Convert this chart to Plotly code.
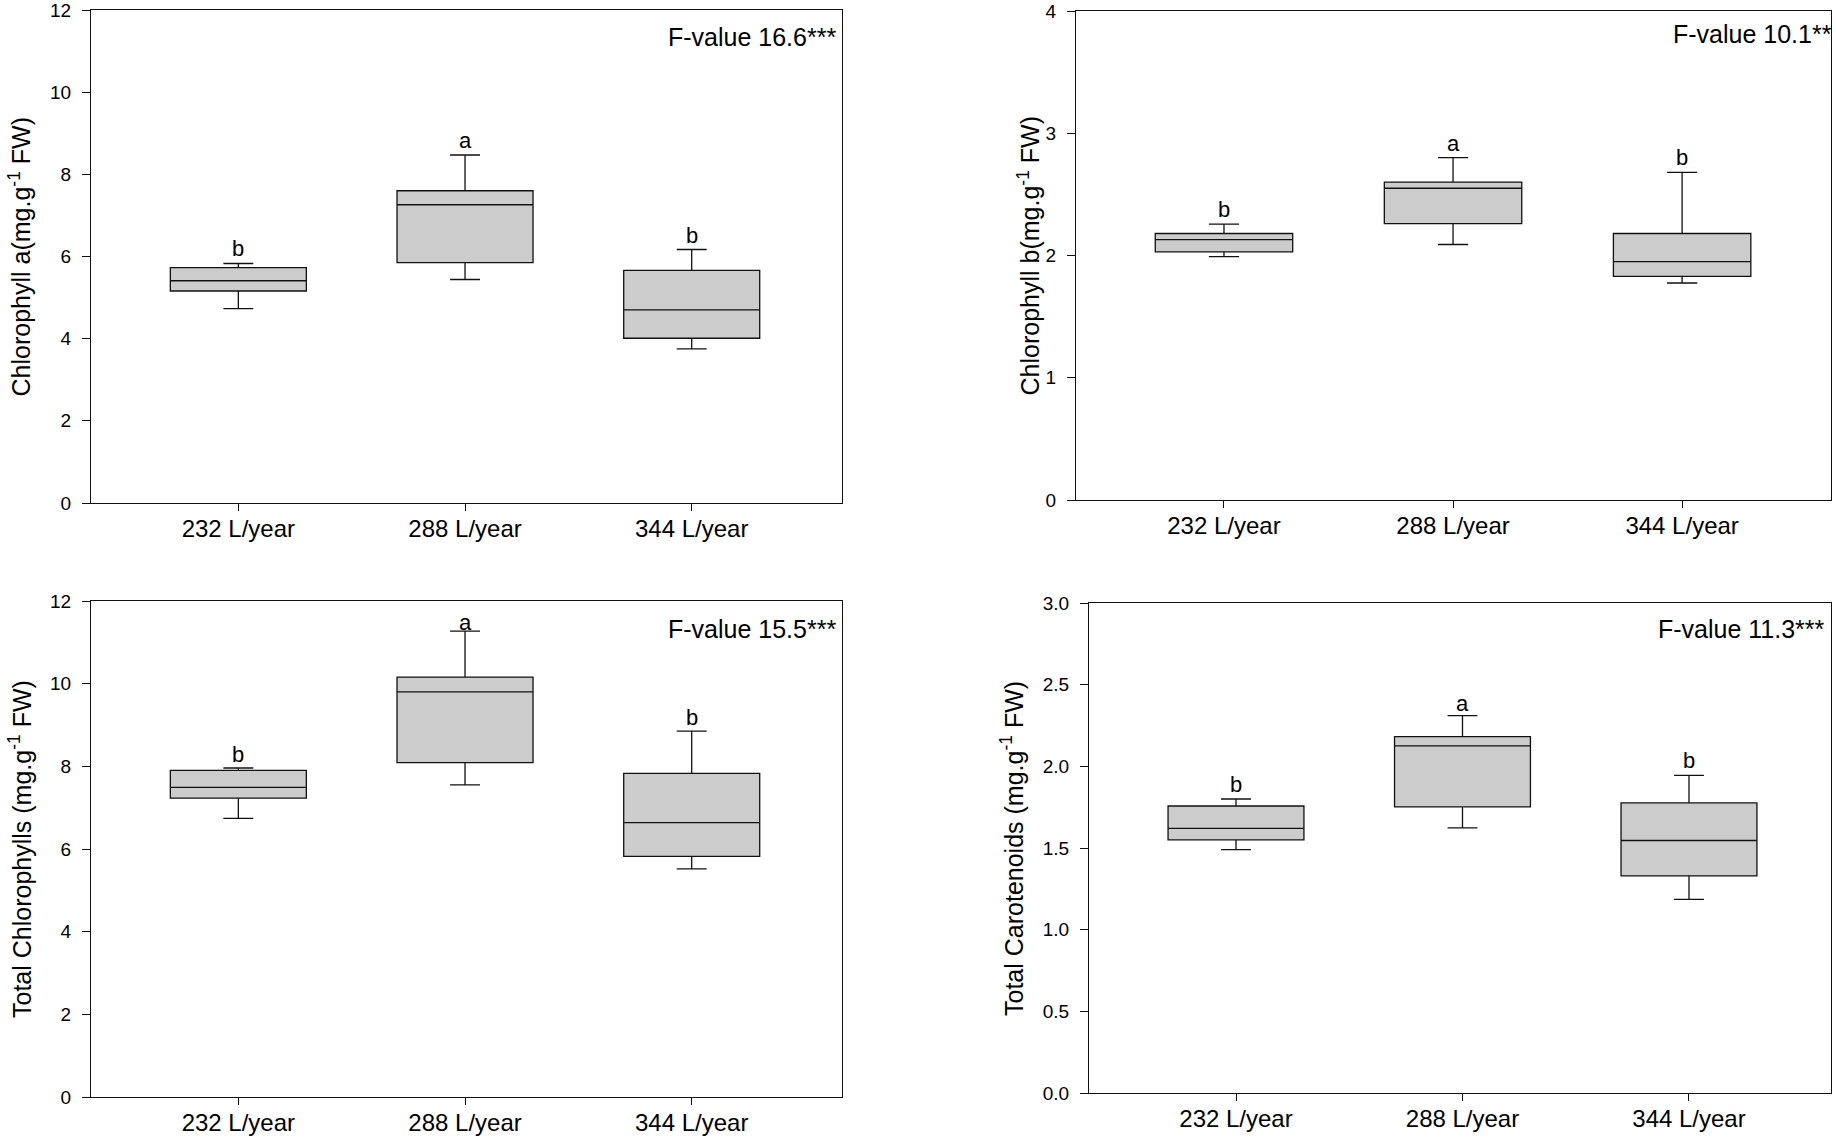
import plotly.graph_objects as go

# ---------------- data ----------------
categories = ["232 L/year", "288 L/year", "344 L/year"]
letters = ["b", "a", "b"]

chla_low = [4.73, 5.44, 3.75]
chla_q1 = [5.16, 5.85, 4.01]
chla_med = [5.41, 7.26, 4.70]
chla_q3 = [5.73, 7.60, 5.66]
chla_high = [5.83, 8.47, 6.17]

chlb_low = [1.99, 2.09, 1.775]
chlb_q1 = [2.03, 2.26, 1.83]
chlb_med = [2.13, 2.55, 1.95]
chlb_q3 = [2.18, 2.60, 2.18]
chlb_high = [2.257, 2.80, 2.68]

tchl_low = [6.74, 7.55, 5.52]
tchl_q1 = [7.23, 8.09, 5.82]
tchl_med = [7.49, 9.80, 6.64]
tchl_q3 = [7.90, 10.16, 7.83]
tchl_high = [7.96, 11.27, 8.85]

car_low = [1.49, 1.623, 1.186]
car_q1 = [1.55, 1.752, 1.329]
car_med = [1.62, 2.125, 1.546]
car_q3 = [1.757, 2.182, 1.776]
car_high = [1.80, 2.31, 1.945]

f_texts = ["F-value 16.6***", "F-value 10.1**", "F-value 15.5***", "F-value 11.3***"]
y_titles = ["Chlorophyll a(mg.g<sup>-1</sup> FW)", "Chlorophyll b(mg.g<sup>-1</sup> FW)",
            "Total Chlorophylls (mg.g<sup>-1</sup> FW)", "Total Carotenoids (mg.g<sup>-1</sup> FW)"]

# ---------------- layout helpers ----------------
W, H = 1836, 1141
FONT = "Liberation Sans, Arial, sans-serif"


def fx(px):
    return min(1.0, max(0.0, px / W))


def fy(py):
    return min(1.0, max(0.0, 1 - py / H))


panels = [
    dict(stats=(chla_low, chla_q1, chla_med, chla_q3, chla_high), px=(91, 842), py=(10, 503),
         xr=[-0.65, 2.663], yr=[0, 12], dt=2, fmt="", title_x=20, fpos=(838, 37), lshift=[0, 0, 0]),
    dict(stats=(chlb_low, chlb_q1, chlb_med, chlb_q3, chlb_high), px=(1076, 1831), py=(11, 500),
         xr=[-0.646, 2.65], yr=[0, 4], dt=1, fmt="", title_x=1028, fpos=(1834, 34), lshift=[0, 0, 0]),
    dict(stats=(tchl_low, tchl_q1, tchl_med, tchl_q3, tchl_high), px=(91, 842), py=(601, 1097),
         xr=[-0.65, 2.663], yr=[0, 12], dt=2, fmt="", title_x=20, fpos=(838, 629), lshift=[-1, -6, -1]),
    dict(stats=(car_low, car_q1, car_med, car_q3, car_high), px=(1089, 1831), py=(603, 1093),
         xr=[-0.649, 2.627], yr=[0, 3], dt=0.5, fmt=".1f", title_x=1012, fpos=(1827, 629), lshift=[0, -2, 0]),
]

fig = go.Figure()
annotations = []
xpos = list(range(len(categories)))

for i, p in enumerate(panels):
    n = "" if i == 0 else str(i + 1)
    low, q1, med, q3, high = p["stats"]
    fig.add_trace(go.Box(
        x=xpos, q1=q1, median=med, q3=q3, lowerfence=low, upperfence=high,
        width=0.6, whiskerwidth=0.22, boxpoints=False,
        fillcolor="#cccccc", line=dict(color="#111111", width=1.3),
        showlegend=False, hoverinfo="skip",
        xaxis="x" + n, yaxis="y" + n,
    ))
    x0, x1 = p["px"]
    y0, y1 = p["py"]
    ax = dict(domain=[fx(x0), fx(x1)], range=p["xr"], tickmode="array", tickvals=xpos,
              ticktext=categories, ticks="outside", ticklen=7, tickwidth=1, tickcolor="#111",
              showline=True, linecolor="#111", linewidth=1.2, mirror=True, showgrid=False,
              zeroline=False, tickfont=dict(family=FONT, size=24, color="black"),
              ticklabelstandoff=-3, ticklabeloverflow="allow",
              anchor="y" + n, fixedrange=True, automargin=False)
    ay = dict(domain=[fy(y1), fy(y0)], range=p["yr"], dtick=p["dt"], tick0=0,
              tickformat=p["fmt"], ticks="outside", ticklen=8, tickwidth=1, tickcolor="#111",
              showline=True, linecolor="#111", linewidth=1.2, mirror=True, showgrid=False,
              zeroline=False, tickfont=dict(family=FONT, size=19, color="black"),
              ticklabelstandoff=7, ticklabeloverflow="allow",
              anchor="x" + n, fixedrange=True, automargin=False)
    fig.layout["xaxis" + n] = ax
    fig.layout["yaxis" + n] = ay

    # y-axis title
    annotations.append(dict(xref="paper", yref="paper", x=fx(p["title_x"]),
                            y=fy((y0 + y1) / 2), text=y_titles[i], textangle=-90,
                            showarrow=False, xanchor="center", yanchor="middle",
                            font=dict(family=FONT, size=25, color="black")))
    # F-value
    fpx, fpy = p["fpos"]
    annotations.append(dict(xref="paper", yref="paper", x=fx(fpx), y=fy(fpy),
                            text=f_texts[i], showarrow=False, xanchor="right", yanchor="middle",
                            font=dict(family=FONT, size=25, color="black")))
    # significance letters
    for k, letter in enumerate(letters):
        annotations.append(dict(xref="x" + n, yref="y" + n, x=xpos[k], y=high[k],
                                text=letter, showarrow=False, xanchor="center",
                                yanchor="bottom", yshift=p["lshift"][k],
                                font=dict(family=FONT, size=22, color="black")))

fig.update_layout(
    width=W, height=H, margin=dict(l=0, r=0, t=0, b=0, autoexpand=False),
    paper_bgcolor="white", plot_bgcolor="white",
    annotations=annotations, showlegend=False,
)

fig.write_html("out.html", config={"displayModeBar": False},
               post_script="document.body.style.margin='0px';")
